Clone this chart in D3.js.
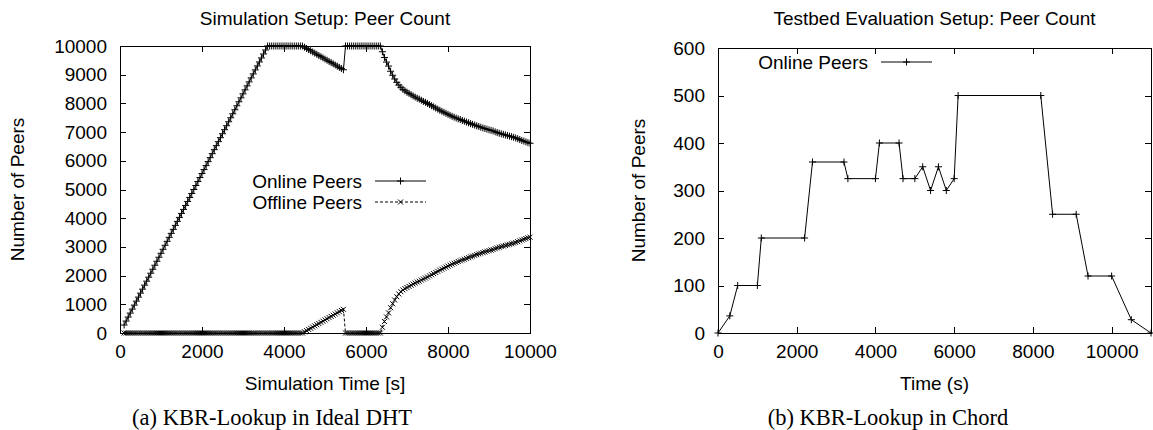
<!DOCTYPE html>
<meta charset="utf-8">
<style>
    body { margin: 0; background: #fff; }
    svg text { font-family: "Liberation Sans", Arial, Helvetica, sans-serif; fill: #000; }
    .caption { font-family: "Liberation Serif", "Times New Roman", serif; }
    .frame { fill: none; stroke: #000; stroke-width: 1; shape-rendering: crispEdges; }
    .series { fill: none; stroke: #000; stroke-width: 1; }
</style>
<svg width="1153" height="430"></svg>
<script src="https://cdn.jsdelivr.net/npm/d3@7"></script>
<script>
    // left panel: simulation, sampled every 50 s
    var simTime = [
        100, 150, 200, 250, 300, 350, 400, 450, 500, 550, 600, 650, 700, 750, 800, 850, 900, 950, 1000, 1050,
        1100, 1150, 1200, 1250, 1300, 1350, 1400, 1450, 1500, 1550, 1600, 1650, 1700, 1750, 1800, 1850, 1900, 1950, 2000, 2050,
        2100, 2150, 2200, 2250, 2300, 2350, 2400, 2450, 2500, 2550, 2600, 2650, 2700, 2750, 2800, 2850, 2900, 2950, 3000, 3050,
        3100, 3150, 3200, 3250, 3300, 3350, 3400, 3450, 3500, 3550, 3600, 3650, 3700, 3750, 3800, 3850, 3900, 3950, 4000, 4050,
        4100, 4150, 4200, 4250, 4300, 4350, 4400, 4450, 4500, 4550, 4600, 4650, 4700, 4750, 4800, 4850, 4900, 4950, 5000, 5050,
        5100, 5150, 5200, 5250, 5300, 5350, 5400, 5450, 5500, 5550, 5600, 5650, 5700, 5750, 5800, 5850, 5900, 5950, 6000, 6050,
        6100, 6150, 6200, 6250, 6300, 6350, 6400, 6450, 6500, 6550, 6600, 6650, 6700, 6750, 6800, 6850, 6900, 6950, 7000, 7050,
        7100, 7150, 7200, 7250, 7300, 7350, 7400, 7450, 7500, 7550, 7600, 7650, 7700, 7750, 7800, 7850, 7900, 7950, 8000, 8050,
        8100, 8150, 8200, 8250, 8300, 8350, 8400, 8450, 8500, 8550, 8600, 8650, 8700, 8750, 8800, 8850, 8900, 8950, 9000, 9050,
        9100, 9150, 9200, 9250, 9300, 9350, 9400, 9450, 9500, 9550, 9600, 9650, 9700, 9750, 9800, 9850, 9900, 9950, 10000
    ];
    var onlinePeers = [
        278, 417, 556, 694, 833, 972, 1111, 1250, 1389, 1528, 1667, 1806, 1944, 2083, 2222, 2361, 2500, 2639, 2778, 2917,
        3056, 3194, 3333, 3472, 3611, 3750, 3889, 4028, 4167, 4306, 4444, 4583, 4722, 4861, 5000, 5139, 5278, 5417, 5556, 5694,
        5833, 5972, 6111, 6250, 6389, 6528, 6667, 6806, 6944, 7083, 7222, 7361, 7500, 7639, 7778, 7917, 8056, 8194, 8333, 8472,
        8611, 8750, 8889, 9028, 9167, 9306, 9444, 9583, 9722, 9861, 10000, 10000, 10000, 10000, 10000, 10000, 10000, 10000, 10000, 10000,
        10000, 10000, 10000, 10000, 10000, 10000, 10000, 10000, 9959, 9917, 9876, 9835, 9793, 9752, 9711, 9669, 9628, 9587, 9545, 9504,
        9463, 9421, 9380, 9339, 9297, 9256, 9214, 9173, 10000, 10000, 10000, 10000, 10000, 10000, 10000, 10000, 10000, 10000, 10000, 10000,
        10000, 10000, 10000, 10000, 10000, 10000, 9800, 9600, 9440, 9300, 9120, 8980, 8850, 8735, 8640, 8560, 8490, 8440, 8390, 8350,
        8300, 8260, 8220, 8180, 8150, 8110, 8070, 8035, 8000, 7960, 7920, 7880, 7840, 7800, 7760, 7725, 7690, 7655, 7620, 7585,
        7550, 7520, 7490, 7460, 7435, 7405, 7380, 7350, 7325, 7295, 7270, 7245, 7220, 7195, 7170, 7145, 7125, 7100, 7080, 7060,
        7040, 7010, 6985, 6960, 6940, 6920, 6900, 6880, 6860, 6840, 6820, 6795, 6770, 6740, 6710, 6685, 6660, 6635, 6610
    ];
    var offlinePeers = [
        0, 0, 0, 0, 0, 0, 0, 0, 0, 0, 0, 0, 0, 0, 0, 0, 0, 0, 0, 0,
        0, 0, 0, 0, 0, 0, 0, 0, 0, 0, 0, 0, 0, 0, 0, 0, 0, 0, 0, 0,
        0, 0, 0, 0, 0, 0, 0, 0, 0, 0, 0, 0, 0, 0, 0, 0, 0, 0, 0, 0,
        0, 0, 0, 0, 0, 0, 0, 0, 0, 0, 0, 0, 0, 0, 0, 0, 0, 0, 0, 0,
        0, 0, 0, 0, 0, 0, 0, 0, 41, 83, 124, 165, 207, 248, 289, 331, 372, 413, 455, 496,
        537, 579, 620, 661, 703, 744, 786, 827, 0, 0, 0, 0, 0, 0, 0, 0, 0, 0, 0, 0,
        0, 0, 0, 0, 0, 0, 200, 400, 560, 700, 880, 1020, 1150, 1265, 1360, 1440, 1500, 1545, 1585, 1625,
        1665, 1705, 1740, 1775, 1805, 1845, 1880, 1915, 1950, 1990, 2030, 2070, 2110, 2150, 2190, 2225, 2260, 2295, 2330, 2365,
        2400, 2430, 2460, 2490, 2515, 2545, 2570, 2600, 2625, 2655, 2680, 2705, 2730, 2755, 2780, 2805, 2825, 2850, 2870, 2890,
        2910, 2940, 2965, 2990, 3010, 3030, 3050, 3070, 3090, 3110, 3130, 3155, 3180, 3210, 3240, 3265, 3290, 3315, 3340
    ];
    var simXTicks = [0, 2000, 4000, 6000, 8000, 10000];
    var simYTicks = [0, 1000, 2000, 3000, 4000, 5000, 6000, 7000, 8000, 9000, 10000];

    // right panel: testbed
    var bedTime = [0, 300, 500, 1000, 1100, 2200, 2400, 3200, 3300, 4000, 4100, 4600, 4700, 5000,
        5200, 5400, 5600, 5800, 6000, 6100, 8200, 8500, 9100, 9400, 10000, 10500, 11000];
    var bedPeers = [0, 36, 100, 100, 200, 200, 360, 360, 325, 325, 400, 400, 325, 325,
        350, 300, 350, 300, 325, 500, 500, 250, 250, 120, 120, 28, 0];
    var bedXTicks = [0, 2000, 4000, 6000, 8000, 10000];
    var bedYTicks = [0, 100, 200, 300, 400, 500, 600];

    var svg = d3.select("svg");
    svg.append("rect").attr("width", 1153).attr("height", 430).attr("fill", "#fff");

    var plus = function (px, py, r) {
        return "M" + (px - r) + "," + py + "H" + (px + r) + "M" + px + "," + (py - r) + "V" + (py + r);
    };
    var cross = function (px, py, r) {
        return "M" + (px - r) + "," + (py - r) + "L" + (px + r) + "," + (py + r) +
            "M" + (px - r) + "," + (py + r) + "L" + (px + r) + "," + (py - r);
    };

    var fontSize = 19;

    var drawFrame = function (box, x, y, xTicks, yTicks, labels) {
        var g = svg.append("g");
        var styleAxis = function (sel) {
            sel.attr("font-size", fontSize).attr("font-family", null);
            sel.select(".domain").remove();
            sel.selectAll(".tick line").attr("stroke", "#000").attr("shape-rendering", "crispEdges");
        };
        var fmt = d3.format("d");

        g.append("g").attr("transform", "translate(0," + box.bottom + ")")
            .call(d3.axisBottom(x).tickValues(xTicks).tickSize(-6).tickPadding(12).tickFormat(fmt))
            .call(styleAxis);
        g.append("g").attr("transform", "translate(0," + box.top + ")")
            .call(d3.axisTop(x).tickValues(xTicks).tickSize(-6).tickFormat(""))
            .call(styleAxis);
        g.append("g").attr("transform", "translate(" + box.left + ",0)")
            .call(d3.axisLeft(y).tickValues(yTicks).tickSize(-6).tickPadding(13).tickFormat(fmt))
            .call(styleAxis);
        g.append("g").attr("transform", "translate(" + box.right + ",0)")
            .call(d3.axisRight(y).tickValues(yTicks).tickSize(-6).tickFormat(""))
            .call(styleAxis);

        g.append("rect").attr("class", "frame")
            .attr("x", box.left).attr("y", box.top)
            .attr("width", box.right - box.left).attr("height", box.bottom - box.top);

        var cx = (box.left + box.right) / 2;
        g.append("text").attr("x", cx).attr("y", 18).attr("dy", "0.35em")
            .attr("text-anchor", "middle").attr("font-size", fontSize).text(labels.title);
        g.append("text").attr("x", cx).attr("y", 383).attr("dy", "0.35em")
            .attr("text-anchor", "middle").attr("font-size", fontSize).text(labels.xTitle);
        g.append("text")
            .attr("transform", "translate(" + labels.yTitleX + "," + (box.top + box.bottom) / 2 + ") rotate(-90)")
            .attr("dy", "0.35em").attr("text-anchor", "middle").attr("font-size", fontSize).text(labels.yTitle);
        g.append("text").attr("class", "caption").attr("x", labels.captionX).attr("y", 417).attr("dy", "0.35em")
            .attr("text-anchor", "middle").attr("font-size", 22.5).text(labels.caption);
    };

    var drawSeries = function (xs, ys, x, y, marker, r, dash) {
        var pts = xs.map(function (t, i) { return [x(t), y(ys[i])]; });
        svg.append("path").attr("class", "series")
            .attr("stroke-dasharray", dash)
            .attr("d", d3.line()(pts));
        svg.append("path").attr("class", "series")
            .attr("d", pts.map(function (p) { return marker(p[0], p[1], r); }).join(""));
    };

    var legendRow = function (tx, ty, x0, x1, marker, r, dash, label) {
        svg.append("text").attr("x", tx).attr("y", ty).attr("dy", "0.35em")
            .attr("text-anchor", "end").attr("font-size", fontSize).text(label);
        svg.append("path").attr("class", "series").attr("stroke-dasharray", dash)
            .attr("d", "M" + x0 + "," + ty + "H" + x1);
        svg.append("path").attr("class", "series").attr("d", marker((x0 + x1) / 2, ty, r));
    };

    // ---- left: simulation
    var boxA = { left: 120, right: 530, top: 46, bottom: 333 };
    var xA = d3.scaleLinear().domain([0, 10000]).range([boxA.left, boxA.right]);
    var yA = d3.scaleLinear().domain([0, 10000]).range([boxA.bottom, boxA.top]);

    drawFrame(boxA, xA, yA, simXTicks, simYTicks, {
        title: "Simulation Setup: Peer Count",
        xTitle: "Simulation Time [s]",
        yTitle: "Number of Peers",
        yTitleX: 17,
        caption: "(a) KBR-Lookup in Ideal DHT",
        captionX: 272
    });
    drawSeries(simTime, offlinePeers, xA, yA, cross, 2.5, "3,2");
    drawSeries(simTime, onlinePeers, xA, yA, plus, 3.5, null);
    legendRow(362, 181, 375, 426, plus, 3.5, null, "Online Peers");
    legendRow(362, 202, 375, 426, cross, 2.5, "3,2", "Offline Peers");

    // ---- right: testbed
    var boxB = { left: 718, right: 1151, top: 48, bottom: 333 };
    var xB = d3.scaleLinear().domain([0, 11000]).range([boxB.left, boxB.right]);
    var yB = d3.scaleLinear().domain([0, 600]).range([boxB.bottom, boxB.top]);

    drawFrame(boxB, xB, yB, bedXTicks, bedYTicks, {
        title: "Testbed Evaluation Setup: Peer Count",
        xTitle: "Time (s)",
        yTitle: "Number of Peers",
        yTitleX: 638,
        caption: "(b) KBR-Lookup in Chord",
        captionX: 888
    });
    drawSeries(bedTime, bedPeers, xB, yB, plus, 3.5, null);
    legendRow(868, 62, 881, 932, plus, 3.5, null, "Online Peers");
</script>
